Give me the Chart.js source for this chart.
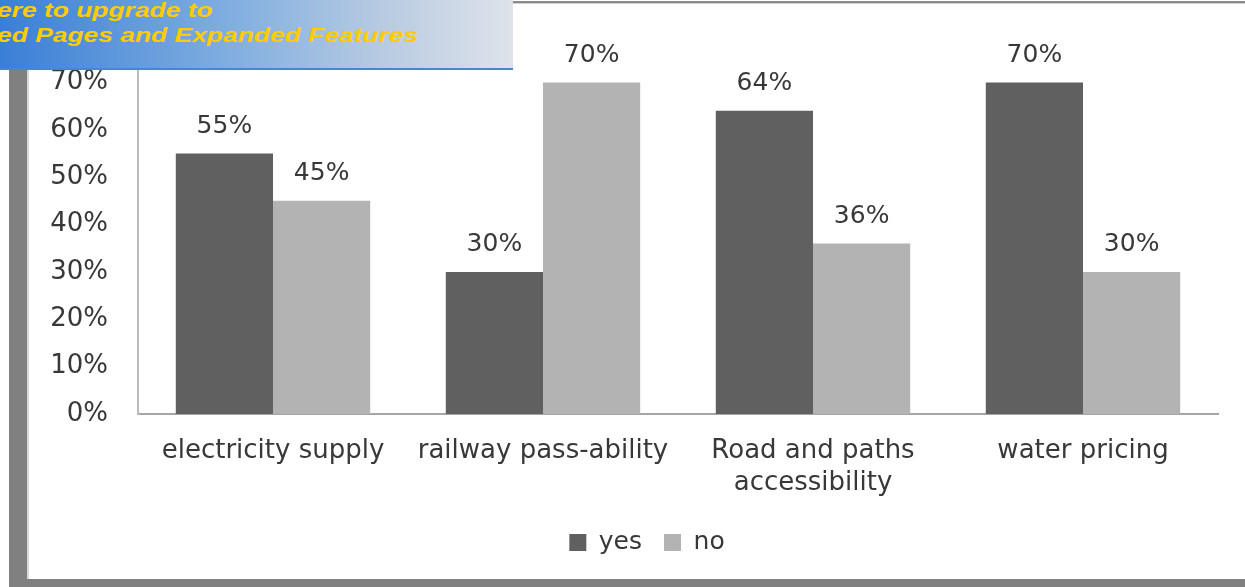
<!DOCTYPE html>
<html>
<head>
<meta charset="utf-8">
<script src="https://cdn.jsdelivr.net/npm/chart.js@4/dist/chart.umd.min.js"></script>
<style>
  html, body { margin: 0; padding: 0; background: #fff; overflow: hidden; }
  #wrap { position: relative; width: 1245px; height: 587px; }
  #chart { position: absolute; left: 0; top: 0; }
  .frameLeft { position: absolute; left: 9px; top: 60px; width: 18px; height: 527px; background: #808080; border-right: 2px solid #d8d8d8; }
  .frameBottom { position: absolute; left: 9px; top: 579px; width: 1236px; height: 8px; background: #808080; }
  .frameTop { position: absolute; left: 500px; top: 1px; width: 745px; height: 2px; background: #8a8a8a; border-bottom: 1px solid #d0d0d0; }
  .banner {
    position: absolute; left: 0; top: 0; width: 513px; height: 68px;
    background: linear-gradient(to right, #3a7fd6 0%, #80aee0 45%, #b8cbe2 75%, #dee3ea 100%);
    border-bottom: 2px solid #4a86cf;
    font-family: "Liberation Sans", Arial, sans-serif; font-weight: bold; font-style: italic;
    color: #ffcc00; font-size: 20px; line-height: 20px; overflow: hidden;
  }
  .banner div { position: absolute; left: -3px; white-space: nowrap; transform: scaleX(1.32); transform-origin: left top; }
</style>
</head>
<body>
<div id="wrap">
  <canvas id="chart" width="1245" height="587"></canvas>
  <div class="frameLeft"></div>
  <div class="frameBottom"></div>
  <div class="frameTop"></div>
  <div class="banner">
    <div style="top:0px">ere to upgrade to</div>
    <div style="top:25px">ed Pages and Expanded Features</div>
  </div>
</div>
<script>
// chart data
const categories = ['electricity supply', 'railway pass-ability', ['Road and paths', 'accessibility'], 'water pricing'];
const yesValues = [55, 30, 64, 70];
const noValues = [45, 70, 36, 30];
const seriesNames = ['yes', 'no'];
const yTicks = [0, 10, 20, 30, 40, 50, 60, 70, 80];

const textFont = '"DejaVu Sans", "Open Sans", sans-serif';

// draws the percentage above each bar
const valueLabels = {
    id: 'valueLabels',
    afterDatasetsDraw(chart) {
        const ctx = chart.ctx;
        ctx.save();
        ctx.font = '25px ' + textFont;
        ctx.fillStyle = '#383838';
        ctx.textAlign = 'center';
        ctx.textBaseline = 'middle';
        chart.data.datasets.forEach(function(ds, i) {
            const meta = chart.getDatasetMeta(i);
            meta.data.forEach(function(bar, j) {
                ctx.fillText(ds.data[j] + '%', bar.x, bar.y - 27);
            });
        });
        ctx.restore();
    }
};

// the legend in the original sits a bit right of centre
const legendShift = {
    id: 'legendShift',
    afterLayout(chart) {
        chart.legend.left += 24;
        chart.legend.right += 24;
    }
};

const ctx = document.getElementById('chart').getContext('2d');
const chart = new Chart(ctx, {
    type: 'bar',
    data: {
        labels: categories,
        datasets: [{
            label: seriesNames[0],
            data: yesValues,
            backgroundColor: '#606060',
            categoryPercentage: 0.72,
            barPercentage: 1.0
        },
        {
            label: seriesNames[1],
            data: noValues,
            backgroundColor: '#b3b3b3',
            categoryPercentage: 0.72,
            barPercentage: 1.0
        }]
    },
    options: {
        responsive: false,
        animation: false,
        layout: { padding: { left: 28, right: 27, top: 35, bottom: 22 } },
        plugins: {
            legend: {
                position: 'bottom',
                labels: {
                    font: { family: textFont, size: 25 },
                    color: '#383838',
                    boxWidth: 17,
                    boxHeight: 17,
                    padding: 22
                }
            },
            tooltip: { enabled: false }
        },
        scales: {
            x: {
                grid: { display: false, drawTicks: false },
                border: { color: '#a6a6a6', width: 2 },
                ticks: {
                    font: { family: textFont, size: 26, lineHeight: 1.23 },
                    color: '#383838',
                    padding: 21,
                    maxRotation: 0,
                    autoSkip: false
                },
                afterFit: function(scale) { scale.height = 94; }
            },
            y: {
                min: 0,
                max: 80,
                afterBuildTicks: function(scale) {
                    scale.ticks = yTicks.map(v => ({ value: v }));
                },
                grid: { display: false, drawTicks: false },
                border: { color: '#bcbcbc', width: 2 },
                ticks: {
                    font: { family: textFont, size: 26 },
                    color: '#383838',
                    padding: 30,
                    callback: v => v + '%'
                },
                afterFit: function(scale) {
                    scale.width = 110;
                    scale.paddingTop = 0;
                    scale.paddingBottom = 0;
                }
            }
        }
    },
    plugins: [valueLabels, legendShift]
});
</script>
</body>
</html>
